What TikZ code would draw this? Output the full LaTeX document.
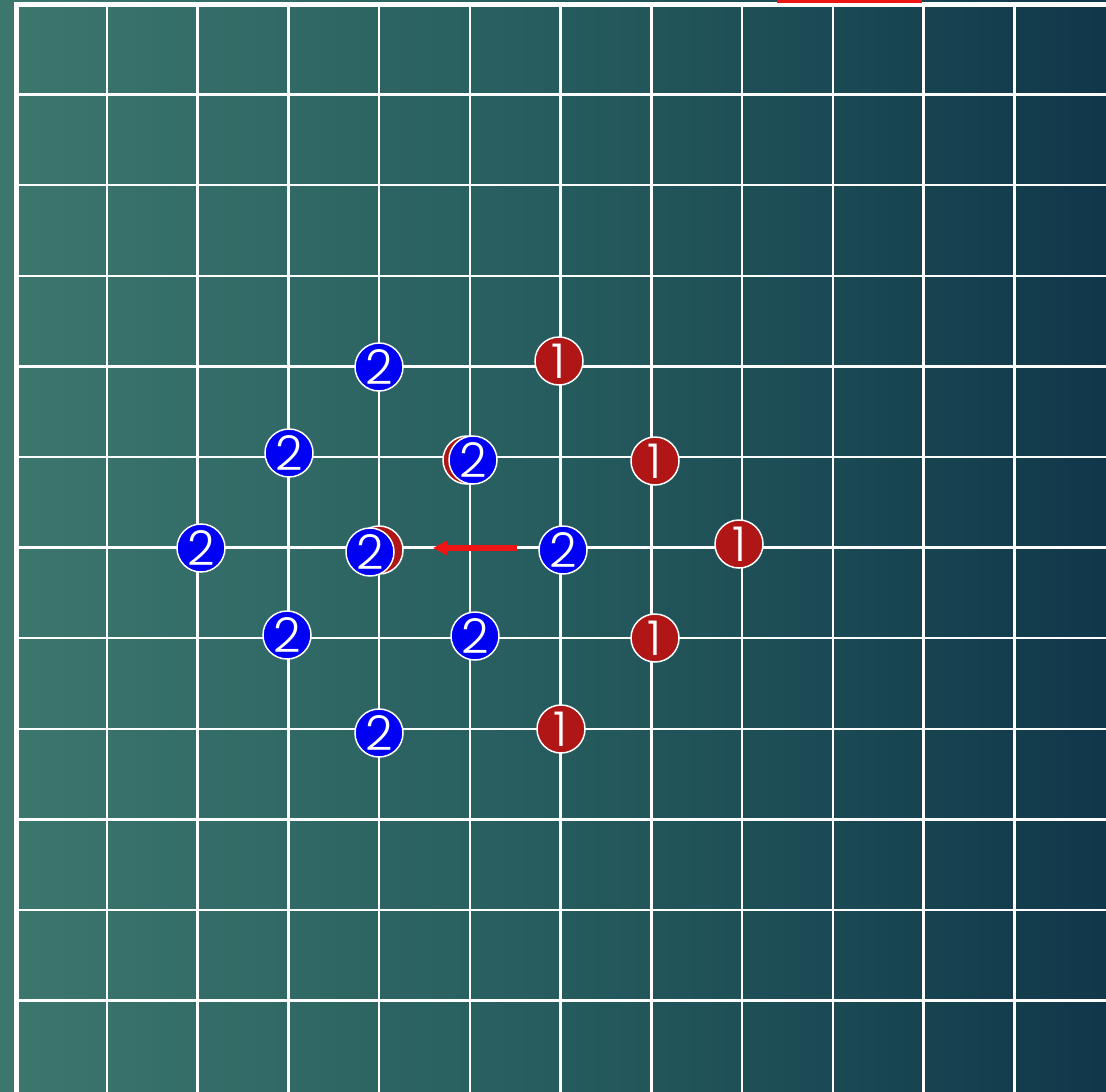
\documentclass[tikz,border=0pt]{standalone}
\usepackage{fontspec}
\setmainfont{Poppins Light}
\usepackage{tikz}
\usetikzlibrary{arrows.meta}
\definecolor{bgleft}{HTML}{3C776E}
\definecolor{bgmid}{HTML}{265C5E}
\definecolor{bgright}{HTML}{10374A}
\definecolor{stonered}{HTML}{B01616}
\definecolor{stoneblue}{HTML}{0000F2}
\definecolor{markred}{HTML}{EE1515}
\tikzset{
  gridline/.style={draw=white,line width=2.5pt},
  stone/.style={circle,draw=white,line width=1.5pt,minimum size=48pt,inner sep=0pt,text=white,font=\fontsize{48}{48}\selectfont},
  stoneone/.style={stone,fill=stonered},
  stonetwo/.style={stone,fill=stoneblue},
  movearrow/.style={-{Triangle[length=14pt,width=14pt]},draw=markred,line width=6pt}
}
\begin{document}
\begin{tikzpicture}[x={(1pt,0)},y={(0,-1pt)}]
  \useasboundingbox (0,0) rectangle (1106,1092);
  % board
  \shade[left color=bgleft,right color=bgright,middle color=bgmid] (0,0) rectangle (1106,1092);
  \foreach \i in {1,...,11}
    \draw[gridline] ({16+90.75*\i},4) -- ({16+90.75*\i},1092);
  \foreach \j in {1,...,11}
    \draw[gridline] (16,{4+90.6*\j}) -- (1106,{4+90.6*\j});
  \draw[gridline,line width=5pt] (16,1092) -- (16,4) -- (1106,4);
  \fill[markred] (777,0) rectangle (922,2.5);

  % move
  \coordinate (arrowStart) at (517,548);
  \coordinate (arrowEnd) at (433,548);
  \draw[movearrow] (arrowStart) -- (arrowEnd);

  % player 1
  \node[stoneone] (r1) at (559,361) {1};
  \node[stoneone] (r2) at (655,461) {1};
  \node[stoneone] (r3) at (739,544) {1};
  \node[stoneone] (r4) at (655,638) {1};
  \node[stoneone] (r5) at (561,729) {1};
  \node[stoneone] (r6) at (467,460) {};
  \node[stoneone] (r7) at (379,550) {};

  % player 2
  \node[stonetwo] (b1) at (379,367) {2};
  \node[stonetwo] (b2) at (289,453) {2};
  \node[stonetwo] (b3) at (473,460) {2};
  \node[stonetwo] (b4) at (201,548) {2};
  \node[stonetwo] (b5) at (370,552) {2};
  \node[stonetwo] (b6) at (563,550) {2};
  \node[stonetwo] (b7) at (287,635) {2};
  \node[stonetwo] (b8) at (475,636) {2};
  \node[stonetwo] (b9) at (379,733) {2};
\end{tikzpicture}
\end{document}
